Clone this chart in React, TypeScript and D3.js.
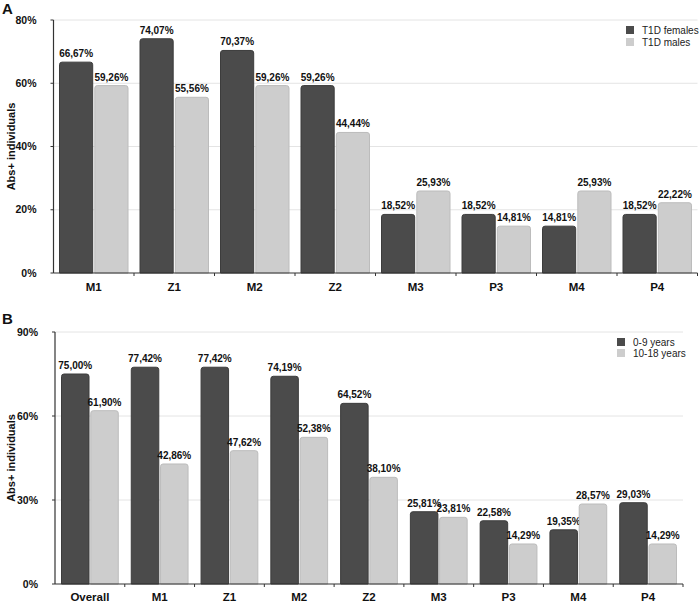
import React from "react";
import * as d3 from "d3";

const catsA = ["M1", "Z1", "M2", "Z2", "M3", "P3", "M4", "P4"];
const seriesA = ["T1D females", "T1D males"];
const femalesA = [66.67, 74.07, 70.37, 59.26, 18.52, 18.52, 14.81, 18.52];
const malesA = [59.26, 55.56, 59.26, 44.44, 25.93, 14.81, 25.93, 22.22];
const ticksA = [0, 20, 40, 60, 80];

const catsB = ["Overall", "M1", "Z1", "M2", "Z2", "M3", "P3", "M4", "P4"];
const seriesB = ["0-9 years", "10-18 years"];
const youngB = [75.0, 77.42, 77.42, 74.19, 64.52, 25.81, 22.58, 19.35, 29.03];
const olderB = [61.9, 42.86, 47.62, 52.38, 38.1, 23.81, 14.29, 28.57, 14.29];
const ticksB = [0, 30, 60, 90];

const DARK = "#4b4b4b";
const LIGHT = "#cdcdcd";
const NARROW = "'Liberation Sans Narrow', 'Arial Narrow', 'Liberation Sans', Arial, sans-serif";
const SANS = "'Liberation Sans', Arial, Helvetica, sans-serif";

const fmt = (v: number) => v.toFixed(2).replace(".", ",") + "%";

function topRounded(x: number, y: number, w: number, h: number, r: number) {
  const rr = Math.min(r, h, w / 2);
  return `M${x},${y + h}V${y + rr}Q${x},${y} ${x + rr},${y}H${x + w - rr}Q${x + w},${y} ${x + w},${y + rr}V${y + h}Z`;
}

type PanelProps = {
  letter: string;
  letterY: number;
  letterSize: number;
  cats: string[];
  series: string[];
  vals: number[][];
  ticks: number[];
  left: number;
  right: number;
  yTop: number;
  yZero: number;
  pad: number;
  catLabelY: number;
  legendX: number;
  legendY: number;
  legendStep: number;
};

function Panel(p: PanelProps) {
  const yMax = p.ticks[p.ticks.length - 1];
  const x0 = d3.scaleBand<string>().domain(p.cats).range([p.left, p.right]).padding(0);
  const bw = x0.bandwidth();
  const x1 = d3
    .scaleBand<string>()
    .domain(p.series)
    .range([p.pad, bw - p.pad])
    .paddingInner(0.06)
    .paddingOuter(0);
  const y = d3.scaleLinear().domain([0, yMax]).range([p.yZero, p.yTop]);
  const colors = [DARK, LIGHT];
  const strokes = ["#3c3c3c", "#bcbcbc"];
  const midY = (p.yTop + p.yZero) / 2;
  return (
    <g>
      <text x={2} y={p.letterY} fontFamily={SANS} fontWeight="bold" fontSize={p.letterSize} fill="#111">
        {p.letter}
      </text>
      <text
        transform={`translate(15,${midY}) rotate(-90)`}
        textAnchor="middle"
        fontFamily={SANS}
        fontWeight="bold"
        fontSize={11}
        fill="#111"
      >
        Abs+ individuals
      </text>
      {p.ticks.map((t) => (
        <g key={t}>
          {t > 0 && (
            <line x1={p.left} x2={p.right} y1={y(t)} y2={y(t)} stroke="#e4e4e4" strokeWidth={1} />
          )}
          <line x1={p.left - 3} x2={p.left} y1={y(t)} y2={y(t)} stroke="#333" strokeWidth={1} />
          <text
            x={p.left - 17}
            y={y(t)}
            dy="0.35em"
            textAnchor="end"
            fontFamily={NARROW}
            fontWeight="bold"
            fontSize={10.5}
            fill="#111"
          >
            {t}%
          </text>
        </g>
      ))}
      {p.cats.map((c, i) => (
        <g key={c} transform={`translate(${x0(c)},0)`}>
          {p.series.map((s, j) => {
            const v = p.vals[j][i];
            const bx = x1(s)!;
            const bwid = x1.bandwidth();
            const top = y(v);
            return (
              <g key={s}>
                <path
                  d={topRounded(bx, top, bwid, p.yZero - top, 2.5)}
                  fill={colors[j]}
                  stroke={strokes[j]}
                  strokeWidth={1}
                />
                <text
                  x={bx + bwid / 2}
                  y={top - 5}
                  textAnchor="middle"
                  fontFamily={NARROW}
                  fontWeight="bold"
                  fontSize={10}
                  fill="#111"
                >
                  {fmt(v)}
                </text>
              </g>
            );
          })}
          <text
            x={bw / 2}
            y={p.catLabelY}
            textAnchor="middle"
            fontFamily={NARROW}
            fontWeight="bold"
            fontSize={11.5}
            fill="#111"
          >
            {c}
          </text>
        </g>
      ))}
      <line x1={p.left} x2={p.left} y1={p.yTop} y2={p.yZero} stroke="#333" strokeWidth={1.2} />
      <line x1={p.left} x2={p.right} y1={p.yZero} y2={p.yZero} stroke="#333" strokeWidth={1.2} />
      {p.cats.map((c) => (
        <line
          key={c}
          x1={x0(c)! + bw}
          x2={x0(c)! + bw}
          y1={p.yZero}
          y2={p.yZero + 3}
          stroke="#333"
          strokeWidth={1}
        />
      ))}
      {p.series.map((s, j) => (
        <g key={s} transform={`translate(${p.legendX},${p.legendY + j * p.legendStep})`}>
          <rect x={0} y={0} width={8} height={8} fill={colors[j]} />
          <text x={16} y={8} fontFamily={SANS} fontSize={10} fill="#222">
            {s}
          </text>
        </g>
      ))}
    </g>
  );
}

export default function App() {
  return (
    <svg
      width={700}
      height={603}
      style={{ position: "absolute", left: 0, top: 0, background: "#fff" }}
    >
      <rect width={700} height={603} fill="#fff" />
      <Panel
        letter="A"
        letterY={14}
        letterSize={15}
        cats={catsA}
        series={seriesA}
        vals={[femalesA, malesA]}
        ticks={ticksA}
        left={53.5}
        right={697.5}
        yTop={20}
        yZero={273}
        pad={6}
        catLabelY={291}
        legendX={626}
        legendY={26}
        legendStep={12}
      />
      <Panel
        letter="B"
        letterY={324}
        letterSize={15}
        cats={catsB}
        series={seriesB}
        vals={[youngB, olderB]}
        ticks={ticksB}
        left={55}
        right={683}
        yTop={332}
        yZero={584}
        pad={6.5}
        catLabelY={601}
        legendX={617}
        legendY={338}
        legendStep={11}
      />
    </svg>
  );
}
